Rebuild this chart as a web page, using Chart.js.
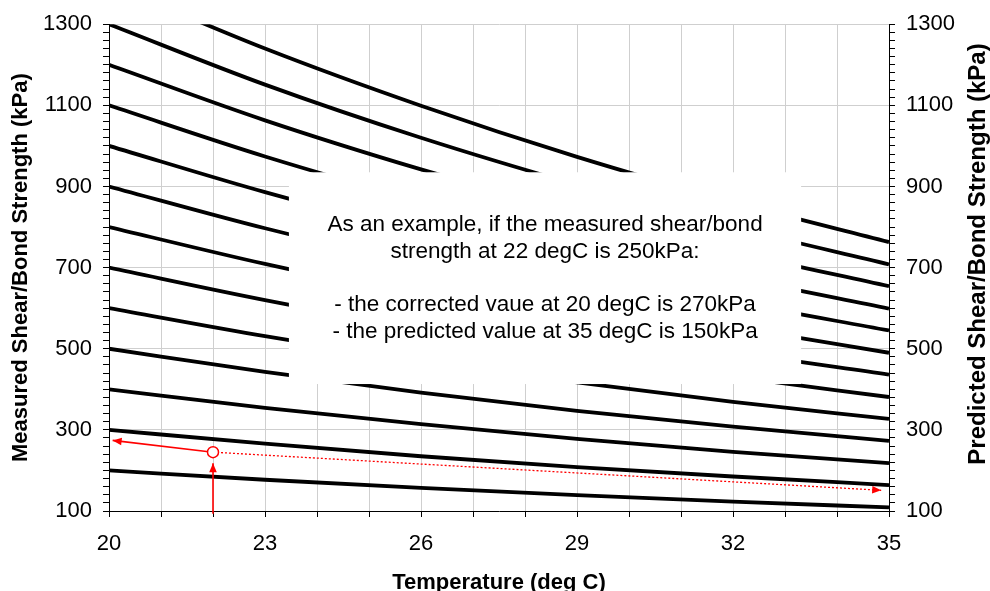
<!DOCTYPE html>
<html>
<head>
<meta charset="utf-8">
<title>Shear/Bond Strength vs Temperature</title>
<script src="https://cdn.jsdelivr.net/npm/chart.js@4.4.0/dist/chart.umd.min.js"></script>
<style>
  html, body { margin: 0; padding: 0; background: #fff; }
  canvas { display: block; }
</style>
</head>
<body>
<canvas id="strengthChart" width="990" height="591"></canvas>
<script>
// temperatures the curves were read at (deg C)
const temps = [20, 23, 26, 29, 32, 35];

// strength curves (kPa), one per value at 20 degC
const line200 = [200, 177, 157, 139, 123, 109];
const line300 = [300, 266, 235, 208, 185, 164];
const line400 = [400, 354, 314, 278, 246, 218];
const line500 = [500, 443, 392, 347, 308, 273];
const line600 = [600, 531, 471, 417, 369, 327];
const line700 = [700, 620, 549, 486, 431, 381];
const line800 = [800, 709, 628, 556, 492, 436];
const line900 = [900, 797, 706, 625, 554, 490];
const line1000 = [1000, 886, 785, 695, 616, 545];
const line1100 = [1100, 974, 863, 764, 677, 599];
const line1200 = [1200, 1063, 942, 834, 739, 654];
const line1300 = [1300, 1151, 1020, 904, 800, 708];
const line1400 = [1400, 1240, 1099, 973, 862, 763];

const curves = [line200, line300, line400, line500, line600, line700, line800,
  line900, line1000, line1100, line1200, line1300, line1400];

// worked example (temp, kPa)
const examplePoint = [22, 245];
const correctedArrow = [[22, 245], [20.07, 274]];
const measuredArrow = [[22, 93], [22, 218]];
const predictedArrow = [[22, 245], [34.85, 151]];

// tick labels
const xLabels = [20, 23, 26, 29, 32, 35];
const yLabels = [100, 300, 500, 700, 900, 1100, 1300];

const noteText = [
  'As an example, if the measured shear/bond',
  'strength at 22 degC is 250kPa:',
  '',
  '- the corrected vaue at 20 degC is 270kPa',
  '- the predicted value at 35 degC is 150kPa',
];

const FONT = "'Liberation Sans', Arial, Helvetica, sans-serif";
const RED = '#ff0000';
const GRID = '#cfcfcf';

Chart.defaults.font.family = FONT;
Chart.defaults.color = '#000';

const toPoints = (pairs) => pairs.map((p) => ({ x: p[0], y: p[1] }));

//] white note box over the middle of the plot
const noteBox = {
  id: 'noteBox',
  afterDatasetsDraw(chart) {
    const { ctx, scales } = chart;
    const x0 = scales.x.getPixelForValue(23.46);
    const x1 = scales.x.getPixelForValue(33.31);
    const y0 = scales.y.getPixelForValue(935);
    const y1 = scales.y.getPixelForValue(413);
    ctx.save();
    ctx.fillStyle = '#fff';
    ctx.fillRect(x0, y0, x1 - x0, y1 - y0);
    ctx.fillStyle = '#000';
    ctx.font = '22.5px ' + FONT;
    ctx.textAlign = 'center';
    ctx.textBaseline = 'middle';
    const cx = (x0 + x1) / 2;
    const cy = (y0 + y1) / 2;
    const lh = 26.7;
    noteText.forEach((t, i) => {
      ctx.fillText(t, cx, cy + (i - 2) * lh);
    });
    ctx.restore();
  },
};

//] arrow heads at the end of the red lines
const arrowHeads = {
  id: 'arrowHeads',
  afterDatasetsDraw(chart) {
    const { ctx } = chart;
    chart.data.datasets.forEach((ds, i) => {
      if (!ds.arrowHead) return;
      const pts = chart.getDatasetMeta(i).data;
      const a = pts[pts.length - 2];
      const b = pts[pts.length - 1];
      const ang = Math.atan2(b.y - a.y, b.x - a.x);
      const len = 9;
      const hw = 3.8;
      ctx.save();
      ctx.translate(b.x, b.y);
      ctx.rotate(ang);
      ctx.fillStyle = RED;
      ctx.beginPath();
      ctx.moveTo(0, 0);
      ctx.lineTo(-len, -hw);
      ctx.lineTo(-len, hw);
      ctx.closePath();
      ctx.fill();
      ctx.restore();
    });
  },
};

//] right axis title reads bottom to top
const rightTitle = {
  id: 'rightTitle',
  afterDraw(chart) {
    const { ctx } = chart;
    ctx.save();
    ctx.translate(985, 254);
    ctx.rotate(-Math.PI / 2);
    ctx.font = 'bold 24px ' + FONT;
    ctx.fillStyle = '#000';
    ctx.textAlign = 'center';
    ctx.textBaseline = 'alphabetic';
    ctx.fillText('Predicted Shear/Bond Strength (kPa)', 0, 0);
    ctx.restore();
  },
};

const curveSets = curves.map((vals, i) => ({
  label: 'from ' + vals[0],
  data: vals.map((v, j) => ({ x: temps[j], y: v })),
  borderColor: '#000',
  borderWidth: 3.8,
  pointRadius: 0,
  cubicInterpolationMode: 'monotone',
  order: 10 + i,
}));

const redLine = {
  borderColor: RED,
  borderWidth: 1.6,
  pointRadius: 0,
  arrowHead: true,
};

const datasets = [
  {
    label: 'example',
    data: toPoints([examplePoint]),
    showLine: false,
    pointRadius: 5.5,
    pointBackgroundColor: '#fff',
    pointBorderColor: RED,
    pointBorderWidth: 1.5,
    order: 0,
  },
  { ...redLine, label: 'corrected', data: toPoints(correctedArrow), order: 1 },
  { ...redLine, label: 'measured', data: toPoints(measuredArrow), clip: false, order: 2 },
  {
    ...redLine,
    label: 'predicted',
    data: toPoints(predictedArrow),
    borderWidth: 1.3,
    borderDash: [2, 2],
    order: 3,
  },
  ...curveSets,
];

const yTickOpts = {
  stepSize: 20,
  maxTicksLimit: 100,
  autoSkip: false,
  padding: 11,
  font: { size: 22 },
  color: '#000',
  callback: (v) => (yLabels.includes(v) ? String(v) : ''),
};

new Chart(document.getElementById('strengthChart'), {
  type: 'line',
  data: { datasets },
  options: {
    responsive: false,
    devicePixelRatio: 1,
    animation: false,
    layout: { padding: { top: 21, left: 0, right: 0, bottom: 0 } },
    plugins: {
      legend: { display: false },
      tooltip: { enabled: false },
    },
    scales: {
      x: {
        type: 'linear',
        position: 'bottom',
        min: 20,
        max: 35,
        ticks: {
          stepSize: 1,
          autoSkip: false,
          maxRotation: 0,
          padding: 14,
          font: { size: 22 },
          color: '#000',
          callback: (v) => (xLabels.includes(v) ? String(v) : ''),
        },
        grid: { color: GRID, tickColor: '#000', tickLength: 6 },
        border: { color: '#000', width: 1 },
        title: {
          display: true,
          text: 'Temperature (deg C)',
          color: '#000',
          font: { size: 22, weight: 'bold', lineHeight: 1 },
          padding: { top: 0, bottom: -3 },
        },
        afterFit: (s) => { s.height = 80; },
      },
      y: {
        type: 'linear',
        position: 'left',
        min: 100,
        max: 1300,
        ticks: yTickOpts,
        grid: {
          color: (c) => (c.tick && yLabels.includes(c.tick.value) ? GRID : 'rgba(0,0,0,0)'),
          tickColor: '#000',
          tickLength: 6,
        },
        border: { color: '#000', width: 1 },
        title: {
          display: true,
          text: 'Measured Shear/Bond Strength (kPa)',
          color: '#000',
          font: { size: 22, weight: 'bold', lineHeight: 1.2 },
          padding: { top: 8, bottom: 0 },
        },
        afterFit: (s) => { s.width = 109; },
      },
      y2: {
        type: 'linear',
        position: 'right',
        min: 100,
        max: 1300,
        ticks: yTickOpts,
        grid: { drawOnChartArea: false, tickColor: '#000', tickLength: 6 },
        border: { color: '#000', width: 1 },
        afterFit: (s) => { s.width = 101; },
      },
    },
  },
  plugins: [noteBox, arrowHeads, rightTitle],
});
</script>
</body>
</html>
